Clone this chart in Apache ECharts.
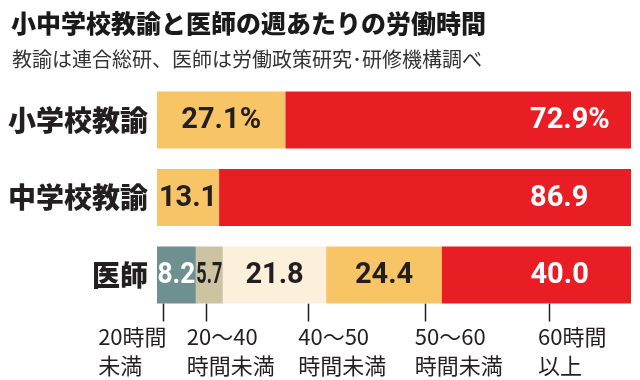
<!DOCTYPE html>
<html><head><meta charset="utf-8">
<script src="https://cdn.jsdelivr.net/npm/echarts@6/dist/echarts.min.js"></script>
<style>html,body{margin:0;padding:0;background:#fff}#c{width:640px;height:380px}</style>
</head><body><div id="c"></div>
<script>
const categories = ['小学校教諭', '中学校教諭', '医師'];
const seriesNames = ['20時間未満', '20〜40時間未満', '40〜50時間未満', '50〜60時間未満', '60時間以上'];
const under20 = [null, null, 8.2];
const h20to40 = [null, null, 5.7];
const h40to50 = [null, null, 21.8];
const h50to60 = [27.1, 13.1, 24.4];
const over60 = [72.9, 86.9, 40.0];
const calloutTicks = [1.3, 10.3, 31.9, 56.5, 82.7];
const calloutLabels = ['20時間\n未満', '20～40\n時間未満', '40～50\n時間未満', '50～60\n時間未満', '60時間\n以上'];

const CJK = '"Noto Sans CJK JP", sans-serif';
const NUM = 'Roboto, sans-serif';
const NUM_SIZE = 29;
const BAR_W = 57;
const dark = '#231f20';
const colors = ['#6e9190', '#cbc3a2', '#fdf0da', '#f8c566', '#e91e25'];
const labelColors = ['#ffffff', dark, dark, dark, '#ffffff'];
const labelOffsetX = [-65, -19, -10, -10, -11];

const seriesData = [under20, h20to40, h40to50, h50to60, over60];

function fmtVal(v, row) {
  const s = Number(v).toFixed(1);
  return row === 0 ? s + '%' : s;
}

const measureCtx = document.createElement('canvas').getContext('2d');
function textWidth(t) {
  measureCtx.font = 'bold ' + NUM_SIZE + 'px ' + NUM;
  return measureCtx.measureText(t).width;
}

const barSeries = seriesData.map((d, i) => ({
  name: seriesNames[i],
  type: 'bar',
  stack: 'total',
  barWidth: BAR_W,
  data: d,
  itemStyle: { color: colors[i] },
  emphasis: { disabled: true },
  animation: false
}));

// segment list for value labels: [start, end, rowIndex, value, seriesIndex]
const segments = [];
categories.forEach((c, j) => {
  let cum = 0;
  seriesData.forEach((d, i) => {
    const v = d[j];
    if (v == null) return;
    segments.push([cum, cum + v, j, v, i]);
    cum += v;
  });
});

const valueLabelSeries = {
  type: 'custom',
  clip: false,
  silent: true,
  animation: false,
  z: 5,
  data: segments,
  encode: { x: [0, 1], y: 2 },
  renderItem: function (params, api) {
    const start = api.value(0), end = api.value(1), row = api.value(2);
    const v = api.value(3), si = api.value(4);
    const p0 = api.coord([start, row]);
    const p1 = api.coord([end, row]);
    const txt = fmtVal(v, row);
    const w = p1[0] - p0[0];
    const tw = textWidth(txt);
    let x, align, sx = 1;
    if (si === 4) {
      x = p1[0] - 101; align = 'left';
    } else {
      x = (p0[0] + p1[0]) / 2; align = 'center';
      sx = Math.min(1, (w - 1) / tw);
    }
    return {
      type: 'text',
      x: x, y: p0[1] + 1,
      scaleX: sx,
      style: {
        text: txt, x: 0, y: 0, align: align, verticalAlign: 'middle',
        fontFamily: NUM, fontWeight: 'bold', fontSize: NUM_SIZE, fill: labelColors[si]
      }
    };
  }
};

const calloutSeries = {
  type: 'custom',
  clip: false,
  silent: true,
  animation: false,
  data: calloutTicks.map((v, i) => [v, 2, i]),
  encode: { x: 0, y: 1 },
  renderItem: function (params, api) {
    const p = api.coord([api.value(0), api.value(1)]);
    const i = api.value(2);
    const bottom = p[1] + BAR_W / 2;
    const x = Math.round(p[0]) + 0.5;
    return {
      type: 'group',
      children: [
        { type: 'line', shape: { x1: x, y1: bottom, x2: x, y2: bottom + 18 },
          style: { stroke: dark, lineWidth: 1.5 } },
        { type: 'text',
          style: {
            text: calloutLabels[i],
            x: p[0] + labelOffsetX[i], y: bottom + 19,
            align: 'left', verticalAlign: 'top',
            fontFamily: CJK, fontSize: 22, lineHeight: 29, fill: dark
          } }
      ]
    };
  }
};

const chart = echarts.init(document.getElementById('c'), null, { renderer: 'canvas' });
chart.setOption({
  animation: false,
  backgroundColor: '#ffffff',
  title: [
    { text: '小中学校教諭と医師の週あたりの労働時間', left: 6, top: 6,
      textStyle: { fontFamily: CJK, fontSize: 25, fontWeight: 900, color: '#1a1a1a' } },
    { text: '教諭は連合総研、医師は労働政策研究･研修機構調べ', left: 7, top: 44,
      textStyle: { fontFamily: CJK, fontSize: 20, fontWeight: 'normal', color: '#333' } }
  ],
  grid: { left: 157, right: 9, top: 81.25, height: 232.5, containLabel: false },
  xAxis: { type: 'value', min: 0, max: 100, show: false },
  yAxis: {
    type: 'category', data: categories, inverse: true,
    axisLine: { show: false }, axisTick: { show: false },
    axisLabel: { margin: 9, fontFamily: CJK, fontSize: 28, fontWeight: 900, color: dark }
  },
  series: barSeries.concat([valueLabelSeries, calloutSeries])
});
</script>
</body></html>
